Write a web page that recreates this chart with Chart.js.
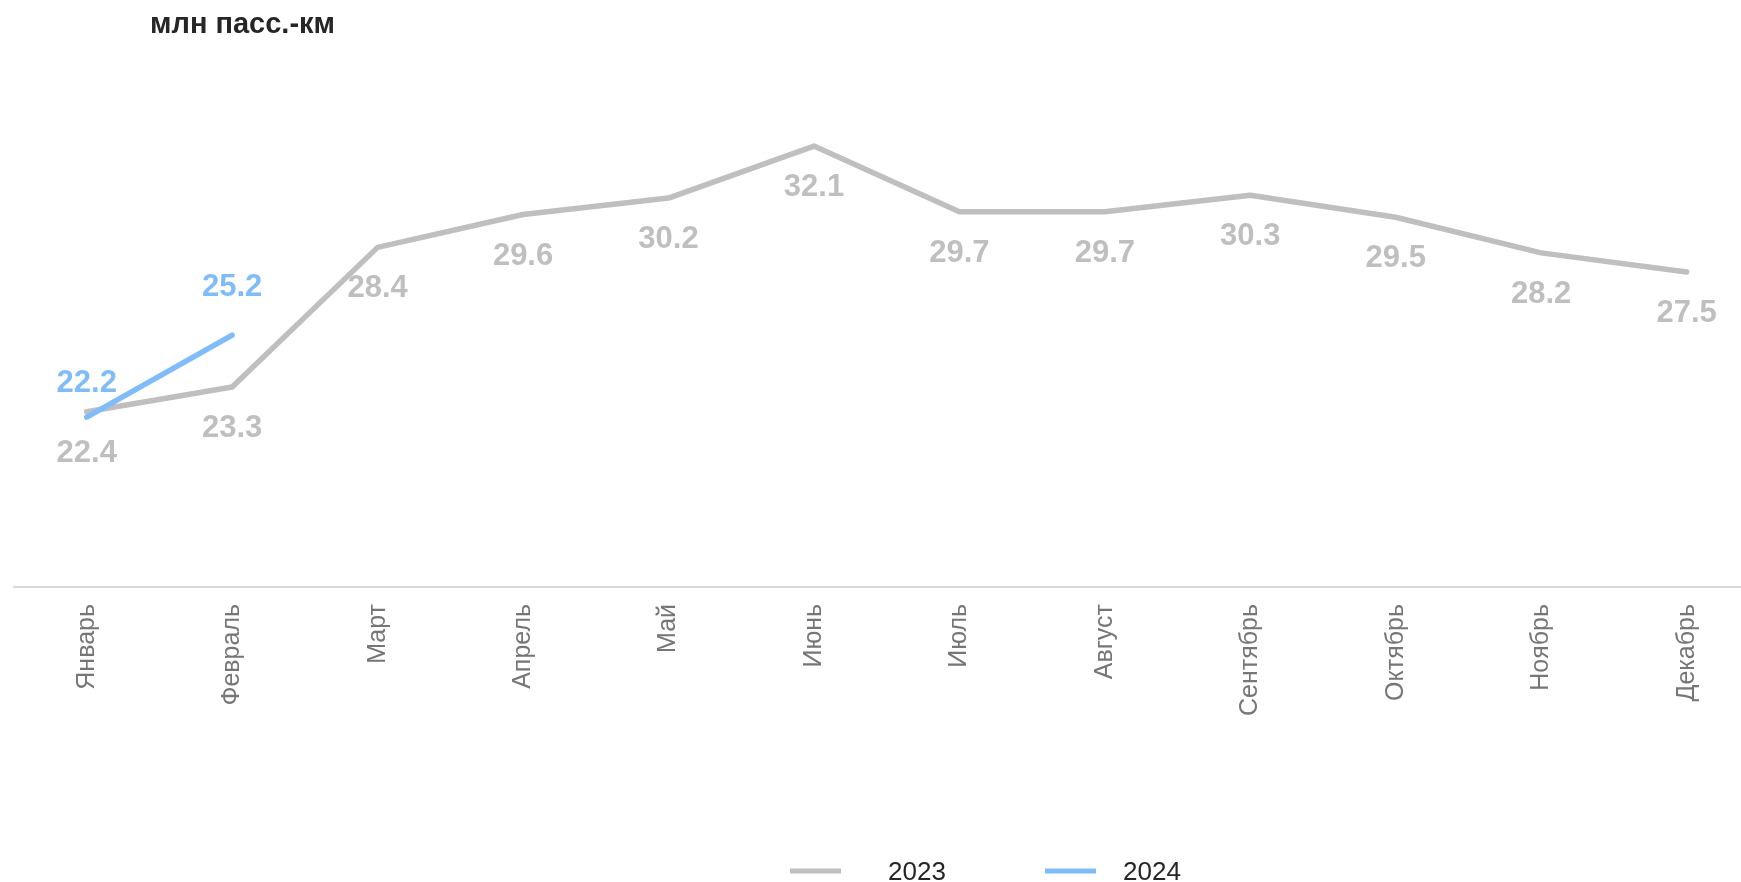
<!DOCTYPE html>
<html>
<head>
<meta charset="utf-8">
<script src="https://cdn.jsdelivr.net/npm/chart.js@4.4.1/dist/chart.umd.min.js"></script>
<style>
  html, body { margin: 0; padding: 0; background: #ffffff; }
  #wrap { width: 1741px; height: 882px; position: relative; }
</style>
</head>
<body>
<div id="wrap"><canvas id="c" width="1741" height="882"></canvas></div>
<script>
// ---- data ----
const months = ['Январь', 'Февраль', 'Март', 'Апрель', 'Май', 'Июнь', 'Июль', 'Август', 'Сентябрь', 'Октябрь', 'Ноябрь', 'Декабрь'];
const values2023 = [22.4, 23.3, 28.4, 29.6, 30.2, 32.1, 29.7, 29.7, 30.3, 29.5, 28.2, 27.5];
const values2024 = [22.2, 25.2];
const seriesNames = ['2023', '2024'];
const unitTitle = 'млн пасс.-км';

// ---- styles ----
const GRAY = '#bfbfbf';
const BLUE = '#80bcfa';
const FONT = '"Liberation Sans", Arial, Helvetica, sans-serif';

const toPoints = arr => arr.map((v, i) => ({ x: i, y: v }));

const decorPlugin = {
  id: 'decor',
  afterDatasetsDraw(chart, args, opts) {
    const ctx = chart.ctx;
    ctx.save();
    // value labels
    ctx.font = 'bold 31px ' + FONT;
    ctx.textAlign = 'center';
    ctx.textBaseline = 'alphabetic';
    chart.data.datasets.forEach((ds, di) => {
      const meta = chart.getDatasetMeta(di);
      const offs = opts.labelOffsets[di];
      ctx.fillStyle = ds.borderColor;
      meta.data.forEach((pt, i) => {
        const off = offs[i] !== undefined ? offs[i] : offs[offs.length - 1];
        ctx.fillText(ds.data[i].y.toFixed(1), pt.x, pt.y + off);
      });
    });
    // unit title
    ctx.font = 'bold 29px ' + FONT;
    ctx.textAlign = 'left';
    ctx.fillStyle = '#262626';
    ctx.fillText(unitTitle, 150, 33);
    // legend
    ctx.font = '26px ' + FONT;
    chart.data.datasets.forEach((ds, di) => {
      const pos = opts.legendPos[di];
      ctx.strokeStyle = ds.borderColor;
      ctx.lineWidth = 5;
      ctx.lineCap = 'butt';
      ctx.beginPath();
      ctx.moveTo(pos[0], 871);
      ctx.lineTo(pos[0] + 51, 871);
      ctx.stroke();
      ctx.fillStyle = '#262626';
      ctx.fillText(ds.label, pos[1], 880);
    });
    ctx.restore();
  }
};

new Chart(document.getElementById('c'), {
  type: 'line',
  data: {
    datasets: [
      {
        label: seriesNames[0],
        data: toPoints(values2023),
        borderColor: GRAY,
        borderWidth: 5.5,
        borderCapStyle: 'round',
        borderJoinStyle: 'round',
        pointRadius: 0,
        tension: 0,
        order: 2
      },
      {
        label: seriesNames[1],
        data: toPoints(values2024),
        borderColor: BLUE,
        borderWidth: 5.5,
        borderCapStyle: 'round',
        borderJoinStyle: 'round',
        pointRadius: 0,
        tension: 0,
        order: 1
      }
    ]
  },
  options: {
    responsive: false,
    animation: false,
    events: [],
    layout: { padding: { left: 14, right: 1, top: 94, bottom: 0 } },
    scales: {
      x: {
        type: 'linear',
        min: -0.5,
        max: 11.367,
        grid: { display: false },
        border: { display: true, color: '#d9d9d9', width: 2 },
        afterBuildTicks: axis => { axis.ticks = months.map((m, i) => ({ value: i })); },
        afterFit: axis => { axis.height = 295; },
        ticks: {
          autoSkip: false,
          minRotation: 90,
          maxRotation: 90,
          padding: 9,
          color: '#767676',
          font: { family: FONT, size: 25 },
          callback: value => months[value]
        }
      },
      y: {
        display: false,
        min: 16,
        max: 34
      }
    },
    plugins: {
      legend: { display: false },
      title: { display: false },
      tooltip: { enabled: false },
      decor: {
        labelOffsets: [[50], [-25, -39]],
        legendPos: [[790, 888], [1045, 1123]]
      }
    }
  },
  plugins: [decorPlugin]
});
</script>
</body>
</html>
